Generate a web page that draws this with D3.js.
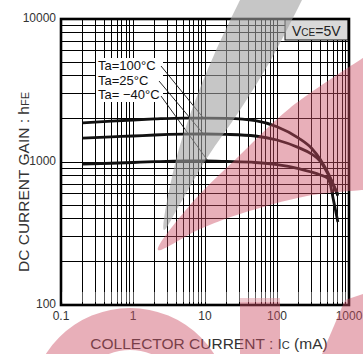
<!DOCTYPE html>
<html>
<head>
<meta charset="utf-8">
<script src="https://cdn.jsdelivr.net/npm/d3@7"></script>
<style>
  html, body { margin: 0; padding: 0; background: #fff; }
  svg { display: block; font-family: "Liberation Sans", Arial, sans-serif; }
</style>
</head>
<body>
<div id="chart"></div>
<script>
const width = 363
const height = 354

// collector current (mA)
const ic = [0.2, 0.5, 1, 2, 5, 10, 20, 50, 100, 200, 300, 400, 500, 550, 600, 650, 700]
// DC current gain per ambient temperature
const hfe100 = [1875, 1930, 1967, 2000, 2030, 2030, 2020, 1945, 1766, 1470, 1253, 1040, 855, 775, 705, 645, 595]
const hfe25 = [1470, 1500, 1520, 1545, 1565, 1570, 1560, 1520, 1425, 1260, 1140, 1010, 840, 765, 695, 635, 580]
const hfeM40 = [968, 980, 992, 1005, 1016, 1016, 1008, 992, 960, 900, 851, 811, 773, 700, 560, 460, 380]

const seriesLabels = ["Ta=100°C", "Ta=25°C", "Ta= \u221240°C"]
const xTicks = [0.1, 1, 10, 100, 1000]
const xTickLabels = ["0.1", "1", "10", "100", "1000"]
const yTicks = [100, 1000, 10000]
const yTickLabels = ["100", "1000", "10000"]

const series = [hfe100, hfe25, hfeM40]

const x = d3.scaleLog().domain([0.1, 1000]).range([61, 349])
const y = d3.scaleLog().domain([100, 10000]).range([305, 19])

const svg = d3.select("#chart")
  .append("svg")
  .attr("width", width)
  .attr("height", height)
  .attr("viewBox", [0, 0, width, height])

svg.append("rect").attr("width", width).attr("height", height).attr("fill", "#fff")

// grid: 1..9 in each decade
const gridX = []
for (let e = -1; e < 3; e++) for (let k = 1; k < 10; k++) gridX.push(k * Math.pow(10, e))
const gridY = []
for (let e = 2; e < 4; e++) for (let k = 1; k < 10; k++) gridY.push(k * Math.pow(10, e))

const grid = svg.append("g")
  .attr("stroke", "#000")
  .attr("stroke-width", 1)
  .attr("shape-rendering", "crispEdges")

grid.selectAll("line.v")
  .data(gridX.slice(1))
  .join("line")
  .attr("class", "v")
  .attr("x1", d => x(d)).attr("x2", d => x(d))
  .attr("y1", y(100)).attr("y2", y(10000))

grid.selectAll("line.h")
  .data(gridY.slice(1))
  .join("line")
  .attr("class", "h")
  .attr("x1", x(0.1)).attr("x2", x(1000))
  .attr("y1", d => y(d)).attr("y2", d => y(d))

// curves
const line = d3.line()
  .x((d, i) => x(ic[i]))
  .y(d => y(d))
  .curve(d3.curveMonotoneX)

svg.append("g")
  .selectAll("path")
  .data(series)
  .join("path")
  .attr("d", line)
  .attr("fill", "none")
  .attr("stroke", "#111")
  .attr("stroke-width", 2.8)

// temperature labels
svg.append("rect")
  .attr("x", 96).attr("y", 58)
  .attr("width", 67).attr("height", 44)
  .attr("fill", "#fff")

const labelBase = [70, 84.5, 99]
const leaderStart = [[161, 66], [159, 81], [161, 96]]
const leaderIc = [9.5, 9.5, 11]

svg.append("g")
  .selectAll("text")
  .data(seriesLabels)
  .join("text")
  .attr("x", 98)
  .attr("y", (d, i) => labelBase[i])
  .attr("font-size", 13)
  .attr("fill", "#111")
  .text(d => d)

svg.append("g")
  .selectAll("line")
  .data(series)
  .join("line")
  .attr("x1", (d, i) => leaderStart[i][0])
  .attr("y1", (d, i) => leaderStart[i][1])
  .attr("x2", (d, i) => x(leaderIc[i]))
  .attr("y2", (d, i) => y(d[5]))
  .attr("stroke", "#111")
  .attr("stroke-width", 0.9)

// VCE box
svg.append("rect")
  .attr("x", 285).attr("y", 19)
  .attr("width", 63).attr("height", 21)
  .attr("fill", "#d9d9d9")
  .attr("stroke", "#111")
  .attr("stroke-width", 1)

const vce = svg.append("text")
  .attr("x", 292).attr("y", 35.5)
  .attr("font-size", 14)
  .attr("fill", "#222")
vce.append("tspan").text("V")
vce.append("tspan").attr("font-size", 10).text("CE")
vce.append("tspan").text("=5V")

// frame
svg.append("rect")
  .attr("x", x(0.1)).attr("y", y(10000))
  .attr("width", x(1000) - x(0.1))
  .attr("height", y(100) - y(10000))
  .attr("fill", "none")
  .attr("stroke", "#000")
  .attr("stroke-width", 2.6)

// tick labels
svg.append("g")
  .selectAll("text")
  .data(xTicks)
  .join("text")
  .attr("x", d => x(d))
  .attr("y", 320)
  .attr("text-anchor", "middle")
  .attr("font-size", 12)
  .attr("fill", "#333")
  .text((d, i) => xTickLabels[i])

svg.append("g")
  .selectAll("text")
  .data(yTicks)
  .join("text")
  .attr("x", 56)
  .attr("y", d => y(d) + 2.5)
  .attr("text-anchor", "end")
  .attr("font-size", 12)
  .attr("fill", "#333")
  .text((d, i) => yTickLabels[i])

// axis titles
const xt = svg.append("text")
  .attr("x", 209).attr("y", 349)
  .attr("text-anchor", "middle")
  .attr("font-size", 15.5)
  .attr("fill", "#333")
xt.append("tspan").text("COLLECTOR CURRENT : I")
xt.append("tspan").attr("font-size", 11).text("C")
xt.append("tspan").text(" (mA)")

const yt = svg.append("text")
  .attr("transform", "translate(28.5,182) rotate(-90)")
  .attr("text-anchor", "middle")
  .attr("font-size", 15.5)
  .attr("fill", "#333")
yt.append("tspan").text("DC CURRENT GAIN : h")
yt.append("tspan").attr("font-size", 11).text("FE")

// watermark overlay
const wm = svg.append("g").attr("pointer-events", "none")
const smooth = d3.line().curve(d3.curveCatmullRom)

const greyBand = [[240, 0], [214, 55], [191, 112], [174, 168], [164, 230], [180, 204], [207, 158], [240, 110], [272, 58], [302, 0]]
wm.append("path")
  .attr("d", smooth(greyBand) + "Z")
  .attr("fill", "rgb(160,160,160)")
  .attr("opacity", 0.6)

const redBand = [[363, 58], [290, 108], [240, 155], [190, 205], [158, 250], [200, 229], [240, 214], [307, 196], [363, 190]]
wm.append("path")
  .attr("d", smooth(redBand) + "Z")
  .attr("fill", "rgb(205,78,100)")
  .attr("opacity", 0.45)

const ring = d3.arc().innerRadius(58).outerRadius(100).startAngle(0).endAngle(2 * Math.PI)
wm.append("path")
  .attr("transform", "translate(130,408)")
  .attr("d", ring())
  .attr("fill", "rgb(205,78,100)")
  .attr("opacity", 0.45)

wm.append("rect")
  .attr("x", 240).attr("y", 298)
  .attr("width", 40).attr("height", 60)
  .attr("fill", "rgb(205,78,100)")
  .attr("opacity", 0.45)

wm.append("path")
  .attr("d", "M345,300L363,294L363,354L322,354Z")
  .attr("fill", "rgb(205,78,100)")
  .attr("opacity", 0.45)

wm.append("rect")
  .attr("x", 62).attr("y", 292)
  .attr("width", 285).attr("height", 10)
  .attr("fill", "#fff")
  .attr("opacity", 0.35)
</script>
</body>
</html>
